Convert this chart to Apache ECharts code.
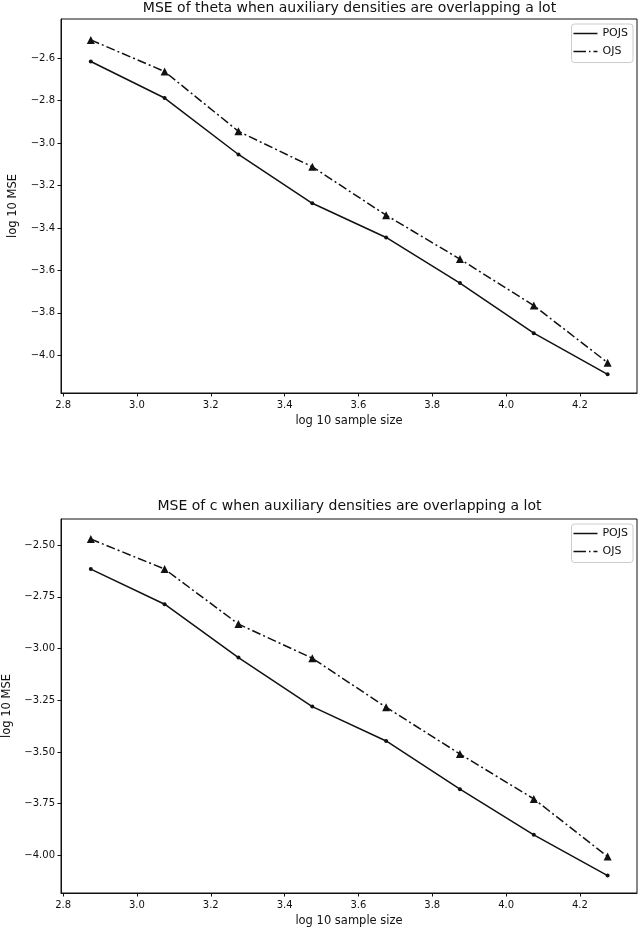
<!DOCTYPE html>
<html>
<head>
<meta charset="utf-8">
<script src="https://cdn.jsdelivr.net/npm/echarts@6/dist/echarts.min.js"></script>
<style>
html,body{margin:0;padding:0;background:#fff;}
#chart{width:640px;height:929px;}
</style>
</head>
<body>
<div id="chart"></div>
<script>
// ---- data ----
const logSampleSize = [2.875, 3.075, 3.275, 3.475, 3.675, 3.875, 4.075, 4.275];
const thetaPOJS = [-2.616, -2.788, -3.054, -3.284, -3.445, -3.660, -3.896, -4.090];
const thetaOJS  = [-2.514, -2.663, -2.945, -3.112, -3.340, -3.547, -3.766, -4.035];
const cPOJS = [-2.616, -2.786, -3.044, -3.281, -3.447, -3.680, -3.901, -4.098];
const cOJS  = [-2.471, -2.616, -2.882, -3.047, -3.284, -3.510, -3.727, -4.006];
const xTicks = [2.8, 3.0, 3.2, 3.4, 3.6, 3.8, 4.0, 4.2];
const thetaYTicks = [-2.6, -2.8, -3.0, -3.2, -3.4, -3.6, -3.8, -4.0];
const cYTicks = [-2.5, -2.75, -3.0, -3.25, -3.5, -3.75, -4.0];
const seriesNames = ['POJS', 'OJS'];
const titles = ['MSE of theta when auxiliary densities are overlapping a lot',
                'MSE of c when auxiliary densities are overlapping a lot'];
const xName = 'log 10 sample size';
const yName = 'log 10 MSE';

// ---- chart ----
const FONT = 'DejaVu Sans';
const INK = '#111';
const minus = s => s.replace('-', '\u2212');
const pairs = ys => ys.map((y, i) => [logSampleSize[i], y]);

const gridTop = [19, 519];
const gridH = 374;

function xAxisFor(i) {
  return {
    type: 'value', gridIndex: i, min: 2.7943, max: 4.3546,
    name: xName, nameLocation: 'middle', nameGap: 22,
    nameTextStyle: {fontFamily: FONT, fontSize: 11.5, color: INK},
    axisLine: {show: true, onZero: false, lineStyle: {color: INK, width: 1}},
    axisTick: {show: true, length: 3.5, customValues: xTicks, lineStyle: {color: INK}},
    axisLabel: {customValues: xTicks, margin: 7, fontFamily: FONT, fontSize: 10, color: INK,
      formatter: v => v.toFixed(1)},
    splitLine: {show: false}
  };
}
function yAxisFor(i, ticks, lo, hi, dec) {
  return {
    type: 'value', gridIndex: i, min: lo, max: hi,
    name: yName, nameLocation: 'middle', nameGap: 42, nameRotate: 90,
    nameTextStyle: {fontFamily: FONT, fontSize: 11.5, color: INK},
    axisLine: {show: true, onZero: false, lineStyle: {color: INK, width: 1}},
    axisTick: {show: true, length: 3.5, customValues: ticks, lineStyle: {color: INK}},
    axisLabel: {customValues: ticks, margin: 6, fontFamily: FONT, fontSize: 10, color: INK,
      formatter: v => minus(v.toFixed(dec))},
    splitLine: {show: false}
  };
}
function legendFor(i, top) {
  return {
    orient: 'vertical', right: 7, top: top,
    backgroundColor: '#fff', borderColor: '#ccc', borderWidth: 1, borderRadius: 3,
    padding: [2.5, 5, 4, 2], itemGap: 4, itemWidth: 24, itemHeight: 12, itemTextGap: 10,
    textStyle: {fontFamily: FONT, fontSize: 11, color: INK, lineHeight: 14},
    data: [
      {name: seriesNames[0], icon: 'path://M0,0H24V1.5H0Z'},
      {name: seriesNames[1], icon: 'path://M0,0H12.5V1.5H0ZM15.5,0H17V1.5H15.5ZM20,0H24V1.5H20Z'}
    ]
  };
}
function seriesFor(i, pojs, ojs) {
  return [
    {name: seriesNames[0], type: 'line', xAxisIndex: i, yAxisIndex: i, data: pairs(pojs),
     symbol: 'circle', symbolSize: 4, showSymbol: true, animation: false,
     lineStyle: {color: INK, width: 1.5, type: 'solid'}, itemStyle: {color: INK}},
    {name: seriesNames[1], type: 'line', xAxisIndex: i, yAxisIndex: i, data: pairs(ojs),
     symbol: 'triangle', symbolSize: 8, showSymbol: true, animation: false,
     lineStyle: {color: INK, width: 1.5, type: [9, 3, 2, 3]}, itemStyle: {color: INK}}
  ];
}

const chart = echarts.init(document.getElementById('chart'), null, {renderer: 'canvas'});
chart.setOption({
  backgroundColor: '#fff',
  animation: false,
  title: [
    {text: titles[0], left: 349.5, top: 1.5, textAlign: 'center', padding: 0,
     textStyle: {fontFamily: FONT, fontSize: 14, fontWeight: 'normal', color: INK}},
    {text: titles[1], left: 349.5, top: 499.5, textAlign: 'center', padding: 0,
     textStyle: {fontFamily: FONT, fontSize: 14, fontWeight: 'normal', color: INK}}
  ],
  legend: [legendFor(0, 24), legendFor(1, 524)],
  grid: [
    {left: 61, width: 576, top: gridTop[0], height: gridH, show: true, borderColor: INK, borderWidth: 1,
     containLabel: false, outerBoundsMode: 'none'},
    {left: 61, width: 576, top: gridTop[1], height: gridH, show: true, borderColor: INK, borderWidth: 1,
     containLabel: false, outerBoundsMode: 'none'}
  ],
  xAxis: [xAxisFor(0), xAxisFor(1)],
  yAxis: [yAxisFor(0, thetaYTicks, -4.178, -2.4155, 1), yAxisFor(1, cYTicks, -4.182, -2.374, 2)],
  series: [...seriesFor(0, thetaPOJS, thetaOJS), ...seriesFor(1, cPOJS, cOJS)]
});
</script>
</body>
</html>
